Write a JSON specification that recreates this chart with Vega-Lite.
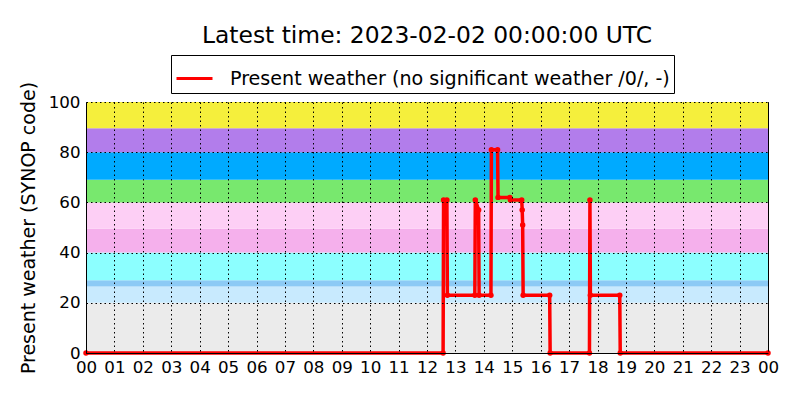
{
  "$schema": "https://vega.github.io/schema/vega-lite/v6.json",
  "autosize": {"type": "none"},
  "padding": {"left": 86, "top": 102, "right": 32, "bottom": 47},
  "width": 682,
  "height": 251,
  "background": "white",
  "title": {
    "text": "Latest time: 2023-02-02 00:00:00 UTC",
    "fontSize": 23.4,
    "font": "DejaVu Sans",
    "fontWeight": "normal",
    "color": "black",
    "anchor": "middle",
    "offset": 6
  },
  "config": {
    "view": {"stroke": "black", "strokeWidth": 1},
    "axis": {
      "labelFont": "DejaVu Sans",
      "labelFontSize": 16.7,
      "labelColor": "black",
      "titleFont": "DejaVu Sans",
      "titleFontSize": 19,
      "titleFontWeight": "normal",
      "titleColor": "black",
      "domainColor": "black",
      "ticks": false,
      "gridColor": "black",
      "gridOpacity": 1,
      "gridWidth": 1,
      "gridDash": [1.5, 3]
    }
  },
  "layer": [
    {
      "data": {
        "values": [
          {"lo": 0, "hi": 20, "band": "b00"},
          {"lo": 20, "hi": 26.5, "band": "b20"},
          {"lo": 26.5, "hi": 29, "band": "b26"},
          {"lo": 29, "hi": 40, "band": "b29"},
          {"lo": 40, "hi": 49.5, "band": "b40"},
          {"lo": 49.5, "hi": 60, "band": "b50"},
          {"lo": 60, "hi": 69, "band": "b60"},
          {"lo": 69, "hi": 80, "band": "b70"},
          {"lo": 80, "hi": 89.5, "band": "b80"},
          {"lo": 89.5, "hi": 100, "band": "b90"}
        ]
      },
      "mark": {"type": "rect"},
      "encoding": {
        "y": {
          "field": "lo", "type": "quantitative",
          "scale": {"domain": [0, 100]},
          "title": "Present weather (SYNOP code)",
          "axis": {"values": [0, 20, 40, 60, 80, 100], "labelPadding": 6, "titlePadding": 10, "zindex": 1}
        },
        "y2": {"field": "hi"},
        "fill": {
          "field": "band", "type": "nominal", "legend": null,
          "scale": {
            "domain": ["b00", "b20", "b26", "b29", "b40", "b50", "b60", "b70", "b80", "b90"],
            "range": ["#ebebeb", "#c8eafe", "#8ccaf5", "#8cffff", "#f5b0ec", "#fdcff5", "#78e86e", "#00aaff", "#b27deb", "#f5ef3c"]
          }
        }
      }
    },
    {
      "data": {
        "values": [
          {"t": "2023-02-01T00:00:00Z", "value": 0},
          {"t": "2023-02-01T12:34:00Z", "value": 0},
          {"t": "2023-02-01T12:35:00Z", "value": 61},
          {"t": "2023-02-01T12:42:00Z", "value": 61},
          {"t": "2023-02-01T12:43:00Z", "value": 23},
          {"t": "2023-02-01T13:41:00Z", "value": 23},
          {"t": "2023-02-01T13:42:00Z", "value": 61},
          {"t": "2023-02-01T13:49:00Z", "value": 57},
          {"t": "2023-02-01T13:50:00Z", "value": 23},
          {"t": "2023-02-01T14:15:00Z", "value": 23},
          {"t": "2023-02-01T14:16:00Z", "value": 81},
          {"t": "2023-02-01T14:29:00Z", "value": 81},
          {"t": "2023-02-01T14:30:00Z", "value": 62},
          {"t": "2023-02-01T14:55:00Z", "value": 62},
          {"t": "2023-02-01T14:56:00Z", "value": 61},
          {"t": "2023-02-01T15:20:00Z", "value": 61},
          {"t": "2023-02-01T15:21:00Z", "value": 57},
          {"t": "2023-02-01T15:22:00Z", "value": 51},
          {"t": "2023-02-01T15:23:00Z", "value": 23},
          {"t": "2023-02-01T16:19:00Z", "value": 23},
          {"t": "2023-02-01T16:20:00Z", "value": 0},
          {"t": "2023-02-01T17:43:00Z", "value": 0},
          {"t": "2023-02-01T17:44:00Z", "value": 61},
          {"t": "2023-02-01T17:45:00Z", "value": 23},
          {"t": "2023-02-01T18:47:00Z", "value": 23},
          {"t": "2023-02-01T18:48:00Z", "value": 0},
          {"t": "2023-02-02T00:00:00Z", "value": 0}
        ]
      },
      "mark": {
        "type": "line",
        "strokeWidth": 3.5,
        "point": {"filled": true, "size": 30}
      },
      "encoding": {
        "x": {
          "field": "t", "type": "temporal",
          "scale": {"type": "utc", "domain": [1675209600000, 1675296000000], "nice": false},
          "title": null,
          "axis": {
            "format": "%H",
            "tickCount": 24,
            "labelOverlap": false,
            "labelFlush": false,
            "labelPadding": 6,
            "labelAngle": 0,
            "zindex": 1
          }
        },
        "y": {
          "field": "value", "type": "quantitative",
          "title": "Present weather (SYNOP code)",
          "axis": {"values": [0, 20, 40, 60, 80, 100], "labelPadding": 6, "titlePadding": 10, "zindex": 1}
        },
        "color": {
          "datum": "Present weather (no significant weather /0/, -)",
          "type": "nominal",
          "scale": {"range": ["#ff0000"]},
          "legend": {
            "title": null,
            "orient": "none",
            "legendX": 85,
            "legendY": -47,
            "symbolType": "stroke",
            "symbolSize": 1296,
            "symbolStrokeWidth": 3,
            "labelFont": "DejaVu Sans",
            "labelFontSize": 19.1,
            "labelColor": "black",
            "labelLimit": 1000,
            "strokeColor": "black",
            "fillColor": "white",
            "padding": 4,
            "labelOffset": 16
          }
        }
      }
    }
  ]
}
